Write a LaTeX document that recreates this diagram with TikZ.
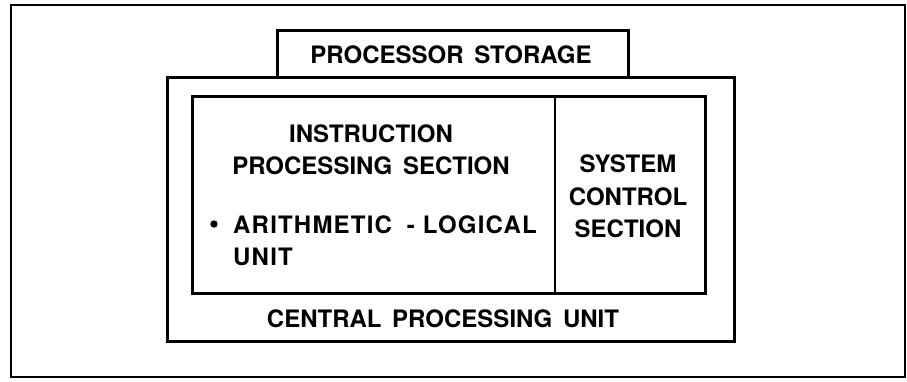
\documentclass[tikz,border=0pt]{standalone}
\usepackage{fontspec}
\setmainfont{TeX Gyre Heros}
\newfontfamily\lblfont{TeX Gyre Heros}[WordSpace=1.6]
\newfontfamily\alufont{TeX Gyre Heros}[LetterSpace=5]
\begin{document}
\begin{tikzpicture}[x=1pt,y=-1pt,
  frame/.style={draw, line width=2.4pt},
  box/.style={draw, line width=3pt},
  lbl/.style={font=\lblfont\bfseries\fontsize{24}{32}\selectfont, inner sep=0pt, anchor=base}]
\useasboundingbox (0,0) rectangle (907,381);
% outer page frame
\draw[frame] (11,5) rectangle (905,377);
% processor storage box sitting on top of the CPU
\draw[box] (277,76) |- (628,30) -- (628,76);
% central processing unit
\draw[box] (167,77) rectangle (734,341);
% instruction processing and system control sections
\draw[box] (192,96) rectangle (705,293);
\draw[box, line width=2.4pt] (555,96) -- (555,293);
% labels
\node[lbl] (ps) at (451,63) {PROCESSOR STORAGE};
\node[lbl] (ips1) at (371,142) {INSTRUCTION};
\node[lbl] (ips2) at (371,174) {PROCESSING SECTION};
\fill (214,224) circle (3.7) coordinate (dot);
\node[lbl, anchor=base west] (alu1) at (233,233)
  {\alufont ARITHMETIC\hspace{15pt}-\hspace{8pt}LOGICAL};
\node[lbl, anchor=base west] (alu2) at (233,265) {\alufont UNIT};
\node[lbl] (scs1) at (628,172) {SYSTEM};
\node[lbl] (scs2) at (628,205) {CONTROL};
\node[lbl] (scs3) at (628,237) {SECTION};
\node[lbl] (cpu) at (443,327) {CENTRAL PROCESSING UNIT};
\end{tikzpicture}
\end{document}
